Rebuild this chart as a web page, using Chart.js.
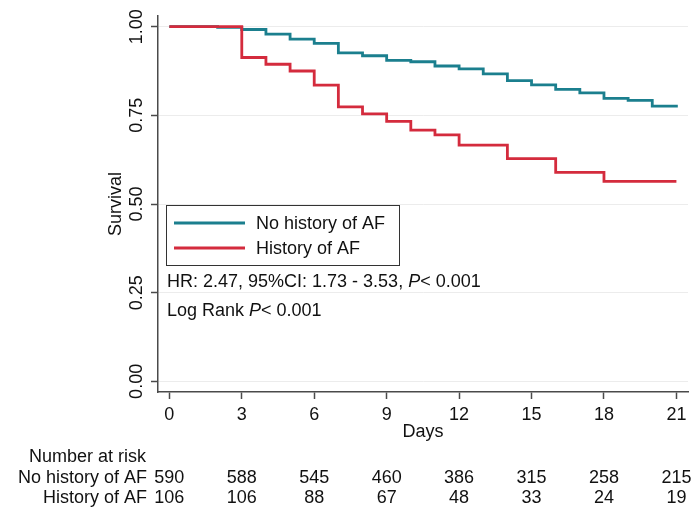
<!DOCTYPE html>
<html>
<head>
<meta charset="utf-8">
<script src="https://cdn.jsdelivr.net/npm/chart.js@4/dist/chart.umd.min.js"></script>
<style>
  html, body { margin: 0; padding: 0; background: #ffffff; }
  #wrap { width: 700px; height: 520px; }
</style>
</head>
<body>
<div id="wrap"><canvas id="c" width="700" height="520"></canvas></div>
<script>
// ---- data ----
const seriesNames = ['No history of AF', 'History of AF'];
const noAfDays   = [0, 2, 3, 4, 5, 6, 7, 8, 9, 10, 11, 12, 13, 14, 15, 16, 17, 18, 19, 20, 21];
const noAfSurv   = [1, 0.998, 0.992, 0.979, 0.965, 0.953, 0.926, 0.918, 0.905, 0.901, 0.889, 0.881, 0.867, 0.848, 0.836, 0.823, 0.813, 0.798, 0.792, 0.776, 0.772];
const afDays     = [0, 3, 4, 5, 6, 7, 8, 9, 10, 11, 12, 14, 16, 18, 21];
const afSurv     = [1, 0.913, 0.894, 0.875, 0.835, 0.774, 0.754, 0.733, 0.708, 0.695, 0.666, 0.628, 0.589, 0.564, 0.564];
const xTicks     = [0, 3, 6, 9, 12, 15, 18, 21];
const yTicks     = [0, 0.25, 0.5, 0.75, 1];
const riskDays   = [0, 3, 6, 9, 12, 15, 18, 21];
const riskNoAf   = [590, 588, 545, 460, 386, 315, 258, 215];
const riskAf     = [106, 106, 88, 67, 48, 33, 24, 19];
const hrText     = ['HR: 2.47, 95%CI: 1.73 - 3.53, ', 'P', '< 0.001'];
const lrText     = ['Log Rank ', 'P', '< 0.001'];

const TEAL = '#1b7f8e';
const RED  = '#d42b3d';
const FONT = '"Liberation Sans", Arial, sans-serif';

const annot = {
  id: 'annot',
  afterDraw(chart) {
    const ctx = chart.ctx;
    const x = chart.scales.x;
    ctx.save();
    ctx.font = '18px ' + FONT;
    ctx.fillStyle = '#111';
    ctx.textBaseline = 'middle';

    // legend box
    ctx.strokeStyle = '#333';
    ctx.lineWidth = 1;
    ctx.strokeRect(166.5, 205.5, 233, 60);
    const cols = [TEAL, RED];
    const ly = [223, 248];
    for (let i = 0; i < 2; i++) {
      ctx.strokeStyle = cols[i];
      ctx.lineWidth = 3;
      ctx.beginPath();
      ctx.moveTo(174, ly[i]);
      ctx.lineTo(245, ly[i]);
      ctx.stroke();
      ctx.textAlign = 'left';
      ctx.fillText(seriesNames[i], 256, ly[i] + 1);
    }

    // stats text
    function mixed(parts, px, py) {
      let cx = px;
      parts.forEach((p, i) => {
        ctx.font = (i === 1 ? 'italic ' : '') + '18px ' + FONT;
        ctx.textAlign = 'left';
        ctx.fillText(p, cx, py);
        cx += ctx.measureText(p).width;
      });
      ctx.font = '18px ' + FONT;
    }
    mixed(hrText, 167, 282);
    mixed(lrText, 167, 311);

    // number at risk table
    ctx.textAlign = 'right';
    ctx.fillText('Number at risk', 146, 457);
    ctx.fillText(seriesNames[0], 147, 478);
    ctx.fillText(seriesNames[1], 147, 498);
    ctx.textAlign = 'center';
    riskDays.forEach((d, i) => {
      const px = x.getPixelForValue(d);
      ctx.fillText(String(riskNoAf[i]), px, 478);
      ctx.fillText(String(riskAf[i]), px, 498);
    });
    ctx.restore();
  }
};

new Chart(document.getElementById('c'), {
  type: 'line',
  data: {
    datasets: [
      {
        label: seriesNames[0],
        data: noAfDays.map((d, i) => ({ x: d, y: noAfSurv[i] })),
        borderColor: TEAL,
        borderWidth: 2.8,
        stepped: 'before',
        pointRadius: 0,
        fill: false,
        order: 1,
        borderJoinStyle: 'miter'
      },
      {
        label: seriesNames[1],
        data: afDays.map((d, i) => ({ x: d, y: afSurv[i] })),
        borderColor: RED,
        borderWidth: 2.8,
        stepped: 'before',
        pointRadius: 0,
        fill: false,
        order: 0,
        borderJoinStyle: 'miter'
      }
    ]
  },
  options: {
    responsive: false,
    animation: false,
    events: [],
    layout: { padding: { top: 16, right: 12, left: 0, bottom: 0 } },
    plugins: {
      legend: { display: false },
      tooltip: { enabled: false }
    },
    scales: {
      x: {
        type: 'linear',
        min: -0.47,
        max: 21.48,
        afterBuildTicks: s => { s.ticks = xTicks.map(v => ({ value: v })); },
        afterFit: s => { s.height = 128; },
        border: { color: '#4a4a4a', width: 1.5 },
        grid: { drawOnChartArea: false, drawTicks: true, tickLength: 7, tickColor: '#4a4a4a', tickWidth: 1.5 },
        ticks: {
          color: '#111',
          font: { family: FONT, size: 18 },
          padding: 5,
          maxRotation: 0,
          minRotation: 0,
          callback: v => String(v)
        },
        title: {
          display: true,
          text: 'Days',
          color: '#111',
          font: { family: FONT, size: 18 },
          padding: { top: 0, bottom: 77 }
        }
      },
      y: {
        type: 'linear',
        min: -0.03,
        max: 1.03,
        afterBuildTicks: s => { s.ticks = yTicks.map(v => ({ value: v })); },
        afterFit: s => { s.width = 158; },
        border: { color: '#4a4a4a', width: 1.5 },
        grid: { color: '#ececec', lineWidth: 1, drawTicks: true, tickLength: 7, tickColor: '#4a4a4a', tickWidth: 1.5 },
        ticks: {
          color: '#111',
          font: { family: FONT, size: 18 },
          padding: -4,
          minRotation: 90,
          maxRotation: 90,
          crossAlign: 'center',
          callback: v => Number(v).toFixed(2)
        },
        title: {
          display: true,
          text: 'Survival',
          color: '#111',
          font: { family: FONT, size: 18 },
          padding: { top: 105, bottom: 0 }
        }
      }
    }
  },
  plugins: [annot]
});
</script>
</body>
</html>
